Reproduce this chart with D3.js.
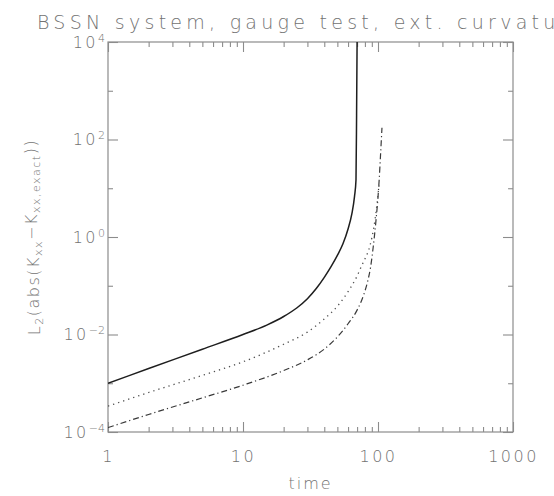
<!DOCTYPE html>
<html>
<head>
<meta charset="utf-8">
<script src="https://cdn.jsdelivr.net/npm/d3@7"></script>
<style>
  html, body { margin: 0; padding: 0; background: #fff; overflow: hidden; }
  svg { display: block; }
  text { font-family: "DejaVu Sans", sans-serif; fill: #727272; }
</style>
</head>
<body>
<svg id="chart" width="554" height="496"></svg>
<script>
// Error norm of K_xx versus time, three runs
const solidTime = [1, 2, 5, 10, 15, 20, 25, 30, 35, 40, 45, 50, 55, 60, 64, 67, 68.7, 69.4, 70.0];
const solidErr  = [0.001, 0.002, 0.005, 0.01, 0.0156, 0.0234, 0.0350, 0.0542, 0.0887, 0.149, 0.250, 0.420, 0.726, 1.46, 2.97, 6.81, 14.8, 316, 10000];

const dottedTime = [1, 2, 5, 10, 20, 30, 40, 50, 60, 70, 76, 81, 85, 90, 95, 99, 102];
const dottedErr  = [3.39e-4, 6.46e-4, 1.45e-3, 2.75e-3, 6.31e-3, 0.0112, 0.0209, 0.0380, 0.0759, 0.158, 0.263, 0.380, 0.525, 0.955, 2.24, 5.62, 12.6];

const dashDotTime = [1, 2, 5, 10, 20, 30, 40, 50, 60, 70, 78, 84, 88.2, 92.2, 96.7, 100.5, 102, 104.5, 107];
const dashDotErr  = [1.23e-4, 2.29e-4, 5.01e-4, 9.12e-4, 1.82e-3, 3.02e-3, 5.01e-3, 8.91e-3, 0.0166, 0.0316, 0.0631, 0.126, 0.245, 0.631, 2.24, 7.94, 14.8, 50.1, 174];

const xMajorTicks = [1, 10, 100, 1000];
const xTickLabels = ["1", "10", "100", "1000"];
const yMajorTicks = [1e-4, 1e-2, 1, 1e2, 1e4];
const yTickExponents = ["−4", "−2", "0", "2", "4"];
const yMinorTicks = [1e-3, 1e-1, 1e1, 1e3];

const titleText = "BSSN system, gauge test, ext. curvature";
const xTitle = "time";

const svg = d3.select("#chart");
const plotLeft = 108, plotRight = 513, plotTop = 42, plotBottom = 432;

const x = d3.scaleLog().domain([1, 1000]).range([plotLeft, plotRight]);
const y = d3.scaleLog().domain([1e-4, 1e4]).range([plotBottom, plotTop]);

const xMinorTicks = [];
for (let d = 1; d < 1000; d *= 10) for (let k = 2; k <= 9; k++) xMinorTicks.push(d * k);

const axisColor = "#8c8c8c";

// frame
svg.append("rect")
  .attr("x", plotLeft).attr("y", plotTop)
  .attr("width", plotRight - plotLeft).attr("height", plotBottom - plotTop)
  .attr("fill", "none").attr("stroke", axisColor).attr("stroke-width", 1.2);

function styleAxis(g) {
  g.select(".domain").remove();
  g.selectAll(".tick line").attr("stroke", axisColor).attr("stroke-width", 1.1);
}

// inward ticks on all four sides
svg.append("g").attr("transform", `translate(0,${plotBottom})`)
  .call(d3.axisBottom(x).tickValues(xMinorTicks).tickSize(-5).tickFormat(""))
  .call(styleAxis);
svg.append("g").attr("transform", `translate(0,${plotTop})`)
  .call(d3.axisTop(x).tickValues(xMinorTicks).tickSize(-5).tickFormat(""))
  .call(styleAxis);
svg.append("g").attr("transform", `translate(0,${plotTop})`)
  .call(d3.axisTop(x).tickValues(xMajorTicks).tickSize(-10).tickFormat(""))
  .call(styleAxis);

const xAxis = svg.append("g").attr("transform", `translate(0,${plotBottom})`)
  .call(d3.axisBottom(x).tickValues(xMajorTicks).tickSize(-10).tickPadding(19)
    .tickFormat((d, i) => xTickLabels[i]))
  .call(styleAxis);
xAxis.selectAll("text")
  .attr("font-size", 16).attr("letter-spacing", 2.5).attr("font-weight", 200)
  .attr("fill", "#727272").attr("font-family", "DejaVu Sans, sans-serif");

svg.append("g").attr("transform", `translate(${plotLeft},0)`)
  .call(d3.axisLeft(y).tickValues(yMinorTicks).tickSize(-5).tickFormat(""))
  .call(styleAxis);
svg.append("g").attr("transform", `translate(${plotRight},0)`)
  .call(d3.axisRight(y).tickValues(yMinorTicks).tickSize(-5).tickFormat(""))
  .call(styleAxis);
svg.append("g").attr("transform", `translate(${plotRight},0)`)
  .call(d3.axisRight(y).tickValues(yMajorTicks).tickSize(-10).tickFormat(""))
  .call(styleAxis);

const yAxis = svg.append("g").attr("transform", `translate(${plotLeft},0)`)
  .call(d3.axisLeft(y).tickValues(yMajorTicks).tickSize(-10).tickPadding(3).tickFormat(""))
  .call(styleAxis);
yAxis.selectAll(".tick text")
  .attr("font-size", 16).attr("font-weight", 200).attr("dy", "0.32em")
  .attr("fill", "#727272").attr("font-family", "DejaVu Sans, sans-serif")
  .each(function (d, i) {
    const t = d3.select(this);
    t.text(null);
    t.append("tspan").attr("letter-spacing", 2.5).text("10");
    t.append("tspan").attr("font-size", 11).attr("dy", "-0.55em").text(yTickExponents[i]);
  });

// series
const clipId = "plotArea";
svg.append("clipPath").attr("id", clipId)
  .append("rect").attr("x", plotLeft).attr("y", plotTop)
  .attr("width", plotRight - plotLeft).attr("height", plotBottom - plotTop);

const line = d3.line()
  .x(d => x(d[0]))
  .y(d => y(d[1]))
  .curve(d3.curveMonotoneX);

const plot = svg.append("g").attr("clip-path", `url(#${clipId})`);

plot.append("path")
  .datum(dashDotTime.map((t, i) => [t, dashDotErr[i]]))
  .attr("d", line).attr("fill", "none")
  .attr("stroke", "#3a3a3a").attr("stroke-width", 1.2)
  .attr("stroke-dasharray", "6,3,1.2,3");

plot.append("path")
  .datum(dottedTime.map((t, i) => [t, dottedErr[i]]))
  .attr("d", line).attr("fill", "none")
  .attr("stroke", "#505050").attr("stroke-width", 1.3)
  .attr("stroke-dasharray", "1.3,4");

plot.append("path")
  .datum(solidTime.map((t, i) => [t, solidErr[i]]))
  .attr("d", line).attr("fill", "none")
  .attr("stroke", "#1e1e1e").attr("stroke-width", 1.5);

// titles
svg.append("text")
  .attr("x", 37).attr("y", 29)
  .attr("font-size", 19).attr("font-weight", 200)
  .attr("textLength", 546).attr("lengthAdjust", "spacing")
  .text(titleText);

svg.append("text")
  .attr("x", (plotLeft + plotRight) / 2).attr("y", 489)
  .attr("text-anchor", "middle")
  .attr("font-size", 16).attr("font-weight", 200).attr("letter-spacing", 2)
  .text(xTitle);

const yTitle = svg.append("text")
  .attr("transform", `translate(40,${(plotTop + plotBottom) / 2}) rotate(-90)`)
  .attr("text-anchor", "middle")
  .attr("font-size", 16).attr("font-weight", 200).attr("letter-spacing", 1.5);
yTitle.append("tspan").text("L");
yTitle.append("tspan").attr("font-size", 11).attr("dy", "0.3em").text("2");
yTitle.append("tspan").attr("dy", "-0.3em").text("(abs(K");
yTitle.append("tspan").attr("font-size", 11).attr("dy", "0.3em").text("xx");
yTitle.append("tspan").attr("dy", "-0.3em").text("−K");
yTitle.append("tspan").attr("font-size", 11).attr("dy", "0.3em").text("xx,exact");
yTitle.append("tspan").attr("dy", "-0.3em").text("))");
</script>
</body>
</html>
